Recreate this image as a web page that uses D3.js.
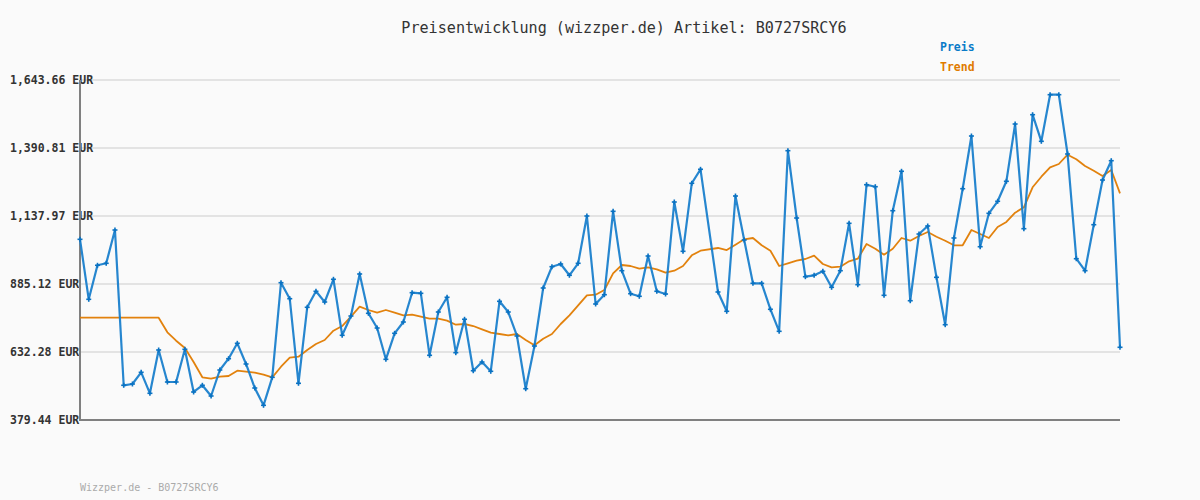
<!DOCTYPE html>
<html><head><meta charset="utf-8">
<script src="https://cdn.jsdelivr.net/npm/d3@7"></script>
<style>
html,body{margin:0;padding:0;background:#fafafa;}
svg{display:block;}
</style></head>
<body>
<svg id="chart" width="1200" height="500"></svg>
<script>
const title = "Preisentwicklung (wizzper.de) Artikel: B0727SRCY6";
const footer = "Wizzper.de - B0727SRCY6";
const yTicks = [379.44, 632.28, 885.12, 1137.97, 1390.81, 1643.66];
const yTickLabels = ["379.44 EUR", "632.28 EUR", "885.12 EUR", "1,137.97 EUR", "1,390.81 EUR", "1,643.66 EUR"];
const seriesNames = ["Preis", "Trend"];
// observation slots (one slot has no observation)
const slots = d3.range(120).filter(i => i !== 72);
const preis = [
  1051.3, 828.2, 954.7, 962.1, 1085.9, 508.5, 513.3, 556.8, 478.7, 639.7,
  520.7, 520.7, 642.3, 483.6, 508.5, 468.7, 565.3, 607.4, 664.6, 587.7,
  498.4, 434.1, 538.2, 890.0, 830.5, 515.9, 798.5, 858.0, 818.2, 902.6,
  694.4, 766.1, 922.3, 776.2, 721.5, 605.1, 701.8, 743.8, 852.8, 850.5,
  620.0, 781.0, 835.7, 629.7, 753.9, 562.7, 595.1, 560.5, 820.8, 781.0,
  691.8, 495.8, 654.6, 870.3, 949.5, 959.5, 917.5, 962.1, 1138.0, 810.8,
  845.3, 1155.4, 934.6, 849.1, 839.4, 989.2, 858.0, 847.9, 1190.0, 1006.7,
  1259.6, 1311.6,
  855.4, 783.6, 1212.3, 1048.7, 887.7, 887.7, 791.1,
  709.2, 1380.8, 1130.5, 912.3, 917.5, 932.3, 872.8, 934.6, 1110.8, 882.5,
  1254.3, 1246.9, 843.1, 1157.7, 1304.2, 823.0, 1071.0, 1100.8, 910.0, 733.8,
  1056.2, 1239.5, 1435.4, 1023.8, 1148.0, 1192.6, 1267.0, 1480.0, 1090.8, 1514.6,
  1415.7, 1589.0, 1589.0, 1368.5, 979.2, 934.6, 1105.6, 1271.8, 1343.6, 649.8
];
const trend = [
  759.8, 759.8, 759.8, 759.8, 759.8, 759.8, 759.8, 759.8, 759.8, 759.8,
  705.5, 674.3, 647.2, 595.1, 538.2, 533.0, 540.4, 543.0, 562.7, 559.0,
  555.3, 547.9, 538.2, 577.6, 611.1, 614.8, 639.7, 662.0, 676.9, 711.5,
  728.9, 763.5, 800.7, 788.4, 778.4, 788.4, 778.4, 768.7, 771.0, 763.5,
  756.1, 756.1, 748.7, 733.8, 736.4, 728.9, 716.7, 704.0, 699.2, 694.4,
  699.2, 676.9, 657.2, 681.7, 699.2, 736.4, 768.7, 805.9, 843.1, 845.3,
  862.8, 924.9, 955.8, 952.1, 942.0, 947.2, 939.8, 927.1, 934.6, 952.1,
  991.8, 1008.9,
  1019.0, 1011.5, 1031.3, 1051.3, 1056.2, 1029.0, 1008.9,
  952.1, 962.1, 971.8, 978.1, 990.4, 959.5, 947.2, 949.5, 969.5, 979.2,
  1033.8, 1016.4, 994.1, 1016.4, 1056.2, 1046.1, 1063.6, 1078.5, 1061.0, 1046.1,
  1029.0, 1029.0, 1085.9, 1071.0, 1056.2, 1097.1, 1115.7, 1150.2, 1170.3, 1244.7,
  1284.1, 1319.1, 1331.3, 1365.9, 1348.8, 1323.9, 1306.4, 1286.7, 1309.0, 1222.3
];

const svg = d3.select("#chart");
const mLeft = 80, mRight = 1120, mTop = 80, mBottom = 420;
const x = d3.scaleLinear().domain([0, 119]).range([mLeft, mRight]);
const y = d3.scaleLinear().domain([yTicks[0], yTicks[yTicks.length-1]]).range([mBottom, mTop]);

const mono = "'DejaVu Sans Mono', 'Liberation Mono', monospace";

svg.append("rect").attr("width",1200).attr("height",500).attr("fill","#fafafa");

// title
svg.append("text").attr("x", 624).attr("y", 33).attr("text-anchor","middle")
  .attr("font-family", mono).attr("font-size", 15.1).attr("fill","#333")
  .text(title);

// grid
svg.append("g").selectAll("line").data(yTicks.slice(1)).join("line")
  .attr("x1", mLeft).attr("x2", mRight)
  .attr("y1", d => y(d)).attr("y2", d => y(d))
  .attr("stroke", "#e3e3e3").attr("stroke-width", 2);

// y labels
svg.append("g").selectAll("text").data(yTicks).join("text")
  .attr("x", 10).attr("y", d => y(d) + 4)
  .attr("font-family", mono).attr("font-weight","bold").attr("font-size", 11.5)
  .attr("fill", "#333")
  .text((d,i) => yTickLabels[i]);

// axes
svg.append("line").attr("x1", mLeft).attr("x2", mLeft).attr("y1", mTop).attr("y2", mBottom+1)
  .attr("stroke","#808080").attr("stroke-width",2);
svg.append("line").attr("x1", mLeft).attr("x2", mRight).attr("y1", mBottom).attr("y2", mBottom)
  .attr("stroke","#808080").attr("stroke-width",2);

// trend line
const line = d3.line().x(d => x(d[0])).y(d => y(d[1]));
svg.append("path").datum(slots.map((s,i) => [s, trend[i]]))
  .attr("d", line).attr("fill","none").attr("stroke","#e07b00")
  .attr("stroke-width",1.8).attr("stroke-linejoin","round").attr("opacity",0.95);

// price line
const pData = slots.map((s,i) => [s, preis[i]]);
svg.append("path").datum(pData)
  .attr("d", line).attr("fill","none").attr("stroke","#1a80cc")
  .attr("stroke-width",2.2).attr("stroke-linejoin","round").attr("opacity",0.95);

// markers (+)
const mk = svg.append("g").attr("stroke","#0a72c2").attr("stroke-width",1.6);
pData.forEach(d => {
  const cx = x(d[0]), cy = y(d[1]);
  mk.append("line").attr("x1",cx-2.5).attr("x2",cx+2.5).attr("y1",cy).attr("y2",cy);
  mk.append("line").attr("x1",cx).attr("x2",cx).attr("y1",cy-2.5).attr("y2",cy+2.5);
});

// legend
const legColors = ["#0a7bc8", "#e07b00"];
svg.append("g").selectAll("text").data(seriesNames).join("text")
  .attr("x", 940).attr("y", (d,i) => 51 + i*20)
  .attr("font-family", mono).attr("font-weight","bold").attr("font-size", 11.5)
  .attr("fill", (d,i) => legColors[i]).text(d => d);

// footer
svg.append("text").attr("x", 80).attr("y", 491)
  .attr("font-family", mono).attr("font-size", 10).attr("fill","#aaa")
  .text(footer);
</script>
</body></html>
